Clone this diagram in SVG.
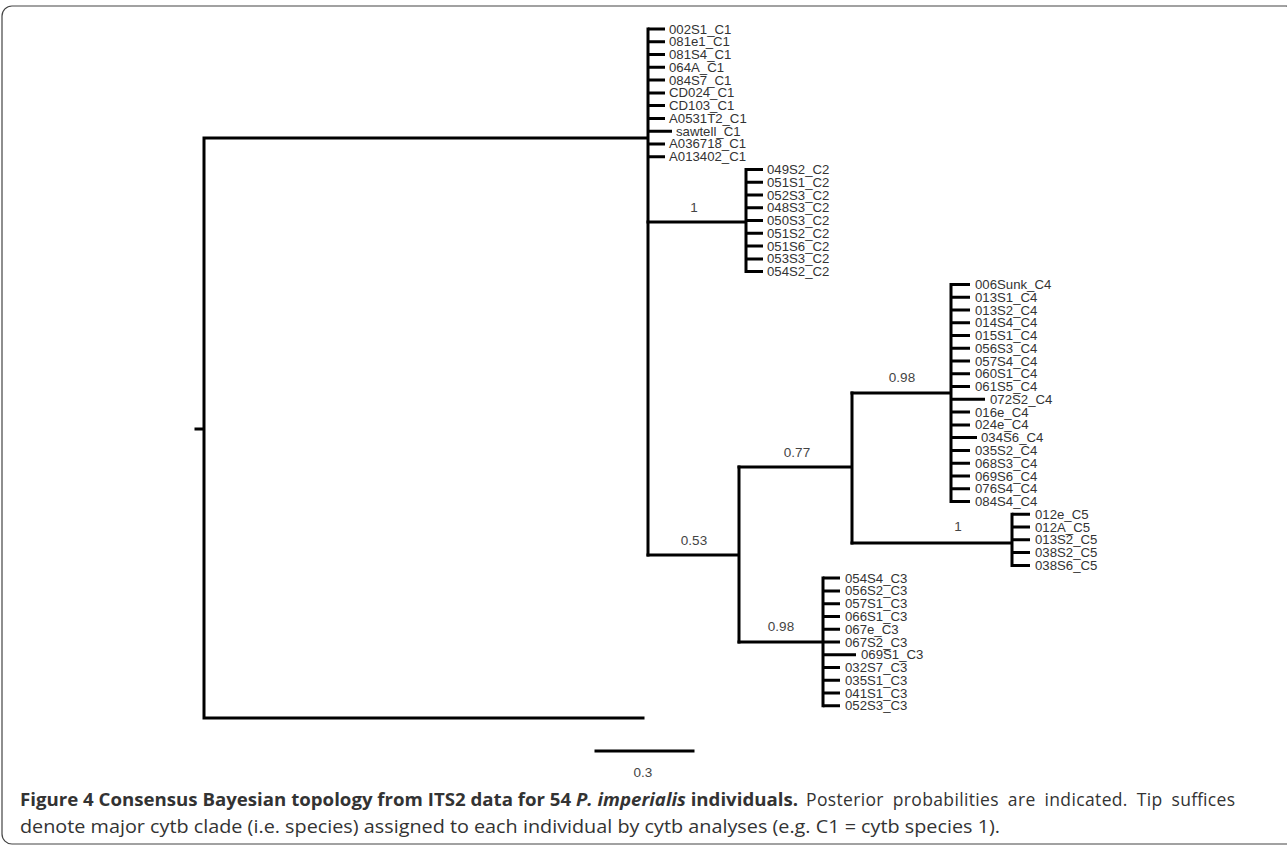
<svg xmlns="http://www.w3.org/2000/svg" width="1287" height="850" viewBox="0 0 1287 850">
<style>
.br{stroke:#000;stroke-width:3;fill:none;stroke-linecap:square}
.tk{stroke:#000;stroke-width:3;fill:none}
.tl{font-family:"Liberation Sans",Arial,sans-serif;font-size:13.2px;fill:#333}
.bl{font-family:"Liberation Sans",Arial,sans-serif;font-size:13.5px;fill:#444;text-anchor:middle}
.cap{font-family:"Open Sans","Noto Sans",sans-serif;font-size:17.5px;fill:#333}
</style>
<rect x="2" y="6" width="1294" height="838" rx="10" fill="none" stroke="#444" stroke-width="1.2"/>
<g id="connectors">
<path class="br" d="M196,429 H204 M204,138 V718 M204,138 H647 M204,718 H643"/>
<path class="br" d="M648,29 V555"/>
<path class="br" d="M648,222 H746 M746,169.5 V271.6"/>
<path class="br" d="M648,555 H739 M739,467 V642"/>
<path class="br" d="M739,467 H852 M852,393 V543"/>
<path class="br" d="M852,393 H951 M951,284.4 V501.5"/>
<path class="br" d="M852,543 H1012 M1012,514.3 V565.4"/>
<path class="br" d="M739,642 H823 M823,578.1 V705.8"/>
</g>
<g id="clade-C1">
<path class="tk" d="M648,29 H665 M648,41.8 H665 M648,54.5 H665 M648,67.3 H665 M648,80.1 H665 M648,92.9 H665 M648,105.6 H665 M648,118.4 H665 M648,131.2 H672 M648,143.9 H665 M648,156.7 H665"/>
<text class="tl" x="669" y="33.5">002S1_C1</text>
<text class="tl" x="669" y="46.3">081e1_C1</text>
<text class="tl" x="669" y="59">081S4_C1</text>
<text class="tl" x="669" y="71.8">064A_C1</text>
<text class="tl" x="669" y="84.6">084S7_C1</text>
<text class="tl" x="669" y="97.4">CD024_C1</text>
<text class="tl" x="669" y="110.1">CD103_C1</text>
<text class="tl" x="669" y="122.9">A0531T2_C1</text>
<text class="tl" x="676" y="135.7">sawtell_C1</text>
<text class="tl" x="669" y="148.4">A036718_C1</text>
<text class="tl" x="669" y="161.2">A013402_C1</text>
</g>
<g id="clade-C2">
<text class="bl" x="694" y="212">1</text>
<path class="tk" d="M746,169.5 H763 M746,182.2 H763 M746,195 H763 M746,207.8 H763 M746,220.6 H763 M746,233.3 H763 M746,246.1 H763 M746,258.9 H763 M746,271.6 H763"/>
<text class="tl" x="767" y="174">049S2_C2</text>
<text class="tl" x="767" y="186.7">051S1_C2</text>
<text class="tl" x="767" y="199.5">052S3_C2</text>
<text class="tl" x="767" y="212.3">048S3_C2</text>
<text class="tl" x="767" y="225.1">050S3_C2</text>
<text class="tl" x="767" y="237.8">051S2_C2</text>
<text class="tl" x="767" y="250.6">051S6_C2</text>
<text class="tl" x="767" y="263.4">053S3_C2</text>
<text class="tl" x="767" y="276.1">054S2_C2</text>
</g>
<g id="clade-C4">
<text class="bl" x="902" y="382">0.98</text>
<path class="tk" d="M951,284.4 H970 M951,297.2 H970 M951,310 H970 M951,322.7 H970 M951,335.5 H970 M951,348.3 H970 M951,361 H970 M951,373.8 H970 M951,386.6 H970 M951,399.3 H985 M951,412.1 H970 M951,424.9 H970 M951,437.6 H977 M951,450.4 H970 M951,463.2 H970 M951,476 H970 M951,488.7 H970 M951,501.5 H970"/>
<text class="tl" x="975" y="288.9">006Sunk_C4</text>
<text class="tl" x="975" y="301.7">013S1_C4</text>
<text class="tl" x="975" y="314.5">013S2_C4</text>
<text class="tl" x="975" y="327.2">014S4_C4</text>
<text class="tl" x="975" y="340">015S1_C4</text>
<text class="tl" x="975" y="352.8">056S3_C4</text>
<text class="tl" x="975" y="365.5">057S4_C4</text>
<text class="tl" x="975" y="378.3">060S1_C4</text>
<text class="tl" x="975" y="391.1">061S5_C4</text>
<text class="tl" x="990" y="403.8">072S2_C4</text>
<text class="tl" x="975" y="416.6">016e_C4</text>
<text class="tl" x="975" y="429.4">024e_C4</text>
<text class="tl" x="981" y="442.1">034S6_C4</text>
<text class="tl" x="975" y="454.9">035S2_C4</text>
<text class="tl" x="975" y="467.7">068S3_C4</text>
<text class="tl" x="975" y="480.5">069S6_C4</text>
<text class="tl" x="975" y="493.2">076S4_C4</text>
<text class="tl" x="975" y="506">084S4_C4</text>
</g>
<g id="clade-C5">
<text class="bl" x="958" y="531">1</text>
<path class="tk" d="M1012,514.3 H1030 M1012,527 H1030 M1012,539.8 H1030 M1012,552.6 H1030 M1012,565.4 H1030"/>
<text class="tl" x="1035" y="518.8">012e_C5</text>
<text class="tl" x="1035" y="531.5">012A_C5</text>
<text class="tl" x="1035" y="544.3">013S2_C5</text>
<text class="tl" x="1035" y="557.1">038S2_C5</text>
<text class="tl" x="1035" y="569.9">038S6_C5</text>
</g>
<g id="clade-C3">
<text class="bl" x="781" y="631">0.98</text>
<path class="tk" d="M823,578.1 H840 M823,590.9 H840 M823,603.7 H840 M823,616.4 H840 M823,629.2 H840 M823,642 H840 M823,654.7 H856 M823,667.5 H840 M823,680.3 H840 M823,693.1 H840 M823,705.8 H840"/>
<text class="tl" x="845" y="582.6">054S4_C3</text>
<text class="tl" x="845" y="595.4">056S2_C3</text>
<text class="tl" x="845" y="608.2">057S1_C3</text>
<text class="tl" x="845" y="620.9">066S1_C3</text>
<text class="tl" x="845" y="633.7">067e_C3</text>
<text class="tl" x="845" y="646.5">067S2_C3</text>
<text class="tl" x="861" y="659.2">069S1_C3</text>
<text class="tl" x="845" y="672">032S7_C3</text>
<text class="tl" x="845" y="684.8">035S1_C3</text>
<text class="tl" x="845" y="697.6">041S1_C3</text>
<text class="tl" x="845" y="710.3">052S3_C3</text>
</g>
<g id="support-labels">
<text class="bl" x="694" y="545">0.53</text>
<text class="bl" x="797" y="457">0.77</text>
</g>
<g id="scale-bar">
<path class="br" d="M596,751 H693"/>
<text class="bl" x="643" y="777">0.3</text>
</g>
<g id="caption">
<text class="cap" x="20" y="806" font-weight="bold" fill="#222" textLength="778" lengthAdjust="spacingAndGlyphs">Figure 4 Consensus Bayesian topology from ITS2 data for 54 <tspan font-style="italic">P. imperialis</tspan> individuals.</text>
<text class="cap" x="806" y="806" textLength="429" lengthAdjust="spacing" word-spacing="4">Posterior probabilities are indicated. Tip suffices</text>
<text class="cap" x="20" y="833" textLength="980" lengthAdjust="spacingAndGlyphs">denote major cytb clade (i.e. species) assigned to each individual by cytb analyses (e.g. C1 = cytb species 1).</text>
</g>
</svg>
